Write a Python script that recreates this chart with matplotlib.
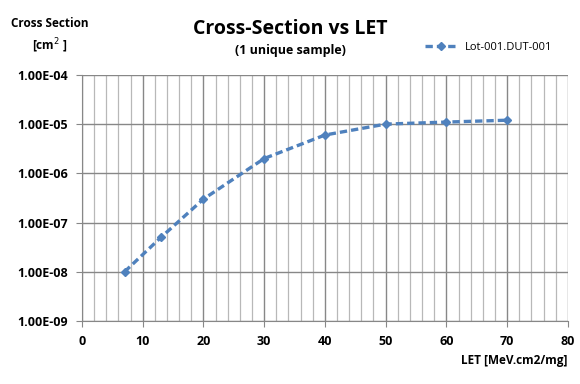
import numpy as np
import matplotlib.pyplot as plt
from matplotlib.ticker import FixedLocator, MultipleLocator

let_values = [7, 13, 20, 30, 40, 50, 60, 70]
cross_section = [1e-8, 5e-8, 3e-7, 2e-6, 6e-6, 1e-5, 1.1e-5, 1.2e-5]
series_name = 'Lot-001.DUT-001'
y_ticks = [1e-9, 1e-8, 1e-7, 1e-6, 1e-5, 1e-4]
y_tick_labels = ['1.00E-09', '1.00E-08', '1.00E-07', '1.00E-06', '1.00E-05', '1.00E-04']
x_ticks = [0, 10, 20, 30, 40, 50, 60, 70, 80]

plt.rcParams['font.family'] = ['Open Sans', 'DejaVu Sans']

fig = plt.figure(figsize=(5.8, 3.84), dpi=100)
ax = fig.add_axes([0.1414, 0.164, 0.8376, 0.641])

ax.set_yscale('log')
ax.set_ylim(1e-9, 1e-4)
ax.set_xlim(0, 80)
ax.yaxis.set_major_locator(FixedLocator(y_ticks))
ax.yaxis.set_minor_locator(FixedLocator([]))
ax.set_yticklabels(y_tick_labels)
ax.xaxis.set_major_locator(FixedLocator(x_ticks))
ax.xaxis.set_minor_locator(MultipleLocator(2))

ax.grid(True, which='major', axis='both', color='#878787', lw=1.0)
ax.grid(True, which='minor', axis='x', color='#b8b8b8', lw=0.9)
ax.set_axisbelow(True)

for side in ['top', 'right']:
    ax.spines[side].set_visible(False)
for side in ['left', 'bottom']:
    ax.spines[side].set_color('#878787')
ax.tick_params(axis='both', which='major', color='#878787', length=4, labelsize=9, pad=6)
ax.tick_params(axis='x', which='minor', length=0)
for lbl in ax.get_xticklabels() + ax.get_yticklabels():
    lbl.set_fontweight('bold')

line, = ax.plot(let_values, cross_section, color='#4f81bd', lw=2.4, ls=(0, (2.2, 1.2)),
                marker='D', ms=4, label=series_name, clip_on=False)

fig.text(0.5, 0.925, 'Cross-Section vs LET', ha='center', va='center',
         fontsize=14, fontweight='bold')
fig.text(0.5, 0.868, '(1 unique sample)', ha='center', va='center',
         fontsize=9, fontweight='bold')
fig.text(0.085, 0.94, 'Cross Section', ha='center', va='center',
         fontsize=8.5, fontweight='bold')
fig.text(0.085, 0.882, '[cm$^{2}$ ]', ha='center', va='center',
         fontsize=8.5, fontweight='bold')
fig.text(0.979, 0.06, 'LET [MeV.cm2/mg]', ha='right', va='center',
         fontsize=8.5, fontweight='bold')

fig.legend(handles=[line], loc='center left', bbox_to_anchor=(0.715, 0.877),
           frameon=False, fontsize=8, handlelength=3, handletextpad=0.6)

fig.savefig('out.png', dpi=100)
